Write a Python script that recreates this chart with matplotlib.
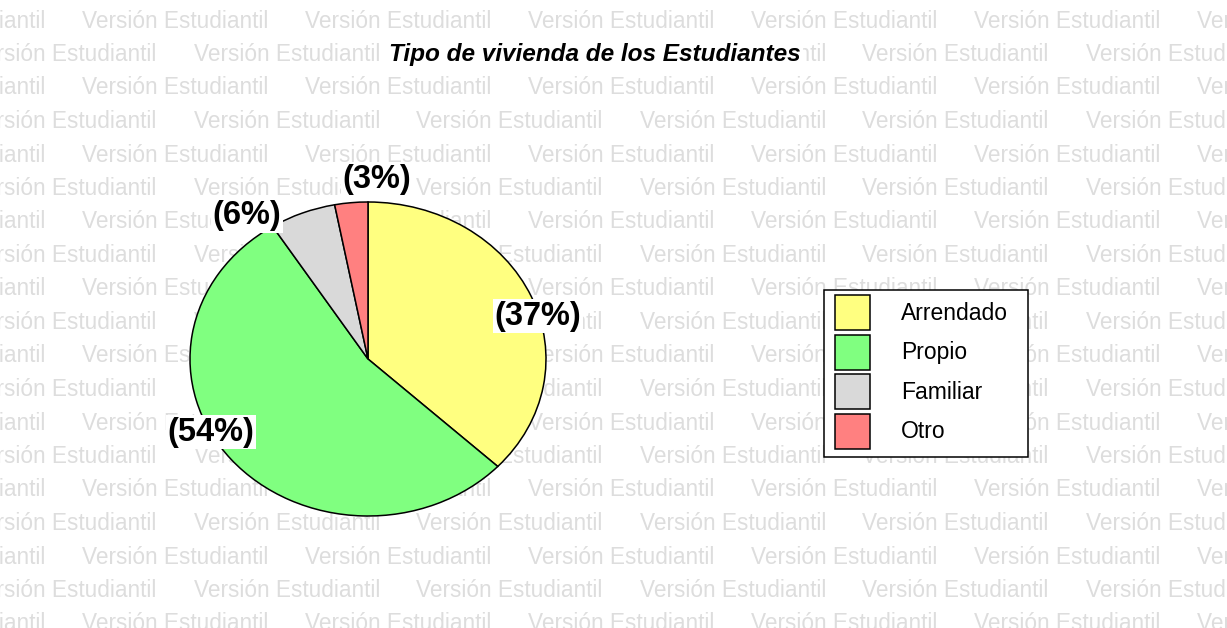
import matplotlib
matplotlib.use("Agg")
import matplotlib.pyplot as plt
from matplotlib.patches import Rectangle

plt.rcParams["font.family"] = ["Liberation Sans", "DejaVu Sans"]

# data
categories = ["Arrendado", "Propio", "Familiar", "Otro"]
shares = [37, 54, 6, 3]
colors = ["#FFFF80", "#80FF80", "#D9D9D9", "#FF8080"]
pct_labels = ["(37%)", "(54%)", "(6%)", "(3%)"]
title = "Tipo de vivienda de los Estudiantes"
watermark = "Versión Estudiantil"

W, H = 1227, 628
fig = plt.figure(figsize=(W / 100, H / 100), dpi=100)
fig.patch.set_facecolor("white")


def fx(x):
    return x / W


def fy(y):
    return 1 - y / H


# background watermark, alternating offset rows
for k in range(19):
    y = 21 + 33.5 * k
    x0 = -141 if k % 2 == 0 else -29.5
    for j in range(7):
        fig.text(fx(x0 + 223 * j), fy(y), watermark, color="#dddddd",
                 fontsize=16.3, ha="left", va="center", zorder=-2)

# pie (stretched horizontally like the original)
ax = fig.add_axes([fx(190), fy(516), 356 / W, 314 / H])
wedges, _ = ax.pie(shares, colors=colors, startangle=90, counterclock=False,
                   radius=1, wedgeprops=dict(edgecolor="black", linewidth=1.1))
ax.set_aspect("auto")
ax.set_xlim(-1, 1)
ax.set_ylim(-1, 1)
ax.patch.set_alpha(0)

# percentage labels
label_px = [(538, 316), (211, 432), (247, 216), (377, 180)]
for txt, (x, y) in zip(pct_labels, label_px):
    fig.text(fx(x), fy(y), txt, fontsize=23.5, fontweight="bold",
             ha="center", va="center", zorder=5,
             bbox=dict(facecolor="white", edgecolor="none", pad=1.5))

fig.text(fx(594.5), fy(54), title, fontsize=17.6, fontweight="bold",
         fontstyle="italic", ha="center", va="center", zorder=5,
         bbox=dict(facecolor="white", edgecolor="none", pad=1.5))

# legend box drawn separately so its size matches the original
fig.patches.append(Rectangle((fx(824), fy(457)), 204 / W, 167 / H,
                             transform=fig.transFigure, facecolor="white",
                             edgecolor="black", linewidth=1.1, zorder=4))
leg = fig.legend(wedges, categories, loc="upper left",
                 bbox_to_anchor=(fx(835), fy(295)), borderaxespad=0,
                 fontsize=16.5, handlelength=1.52, handleheight=1.97,
                 handletextpad=1.35, labelspacing=0.2, borderpad=0,
                 frameon=False)
leg.set_zorder(5)

fig.savefig("out.png", dpi=100)
